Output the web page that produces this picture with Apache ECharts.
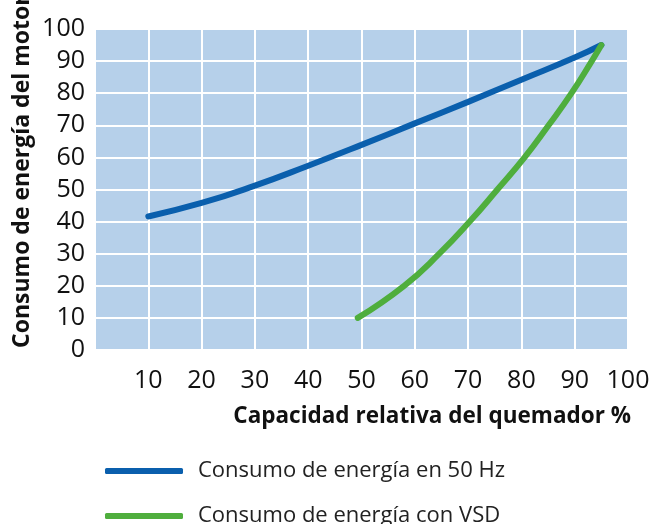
<!DOCTYPE html>
<html>
<head>
<meta charset="utf-8">
<title>Consumo de energía</title>
<script src="https://cdn.jsdelivr.net/npm/echarts@6/dist/echarts.min.js"></script>
<style>
    html, body { margin: 0; padding: 0; background: #fff; }
    #chart { width: 661px; height: 524px; }
</style>
</head>
<body>
<div id="chart"></div>
<script>
// datos
var seriesNames = ["Consumo de energía en 50 Hz", "Consumo de energía con VSD"];
var hzX = [10, 20, 30, 40, 50, 60, 70, 80, 90, 95];
var hzY = [41.6, 45.8, 51.2, 57.4, 63.9, 70.6, 77.3, 84.2, 91.1, 95];
var vsdX = [49.3, 58, 64.6, 70.3, 75.5, 80.6, 85.1, 89.4, 93.2, 95];
var vsdY = [10, 20, 30, 40, 50, 60, 70, 80, 90, 95];
var xTicks = [10, 20, 30, 40, 50, 60, 70, 80, 90, 100];
var yTicks = [0, 10, 20, 30, 40, 50, 60, 70, 80, 90, 100];
var xTitle = "Capacidad relativa del quemador %";
var yTitle = "Consumo de energía del motor %";

var pairs = function (xs, ys) { // [x, y]
    var out = [];
    for (var i = 0; i < xs.length; i++) {
        out.push([xs[i], ys[i]]);
    }
    return out;
};

var font = "'Open Sans', 'Noto Sans', sans-serif";
var myChart = echarts.init(document.getElementById("chart"), null, { renderer: "canvas" });

// una leyenda por serie (una debajo de otra)
var legendItem = function (name, top) {
    return {
        left: 100, top: top,
        itemWidth: 78, itemHeight: 6,
        icon: "roundRect",
        textStyle: { fontSize: 22, color: "#222", fontFamily: font, padding: [0, 0, 0, 10] },
        data: [name]
    };
};

var option = {
    animation: false,
    backgroundColor: "#ffffff",
    textStyle: { fontFamily: font },
    grid: {
        left: 95, right: 33, top: 29, bottom: 174,
        show: true, backgroundColor: "#b6d0ea", borderWidth: 0
    },
    xAxis: {
        type: "value", min: 0, max: 100, interval: 10,
        axisLine: { show: false },
        axisTick: { show: false },
        splitLine: { lineStyle: { color: "#ffffff", width: 2 } },
        axisLabel: {
            margin: 18, fontSize: 25, color: "#111", fontFamily: font,
            formatter: function (v) { return xTicks.indexOf(v) >= 0 ? String(v) : ""; }
        }
    },
    yAxis: {
        type: "value", min: 0, max: 100, interval: 10,
        axisLine: { show: false },
        axisTick: { show: false },
        splitLine: { lineStyle: { color: "#ffffff", width: 2 } },
        axisLabel: {
            margin: 10, fontSize: 25, color: "#111", fontFamily: font,
            formatter: function (v) { return yTicks.indexOf(v) >= 0 ? String(v) : ""; }
        }
    },
    legend: [legendItem(seriesNames[0], 455), legendItem(seriesNames[1], 500)],
    graphic: [{
        type: "text", x: 22, y: 348, rotation: Math.PI / 2,
        style: {
            text: yTitle, font: "bold 23px " + font, fill: "#111",
            textAlign: "left", textVerticalAlign: "middle"
        }
    }, {
        type: "text", x: 631, y: 417,
        style: {
            text: xTitle, font: "bold 22.5px " + font, fill: "#111",
            textAlign: "right", textVerticalAlign: "middle"
        }
    }],
    series: [{
        name: seriesNames[0], type: "line", smooth: true, symbol: "none",
        itemStyle: { color: "#0a5fad" },
        lineStyle: { color: "#0a5fad", width: 6, cap: "round" },
        data: pairs(hzX, hzY)
    }, {
        name: seriesNames[1], type: "line", smooth: true, symbol: "none",
        itemStyle: { color: "#4fae3d" },
        lineStyle: { color: "#4fae3d", width: 6, cap: "round" },
        data: pairs(vsdX, vsdY)
    }]
};
myChart.setOption(option);
</script>
</body>
</html>
